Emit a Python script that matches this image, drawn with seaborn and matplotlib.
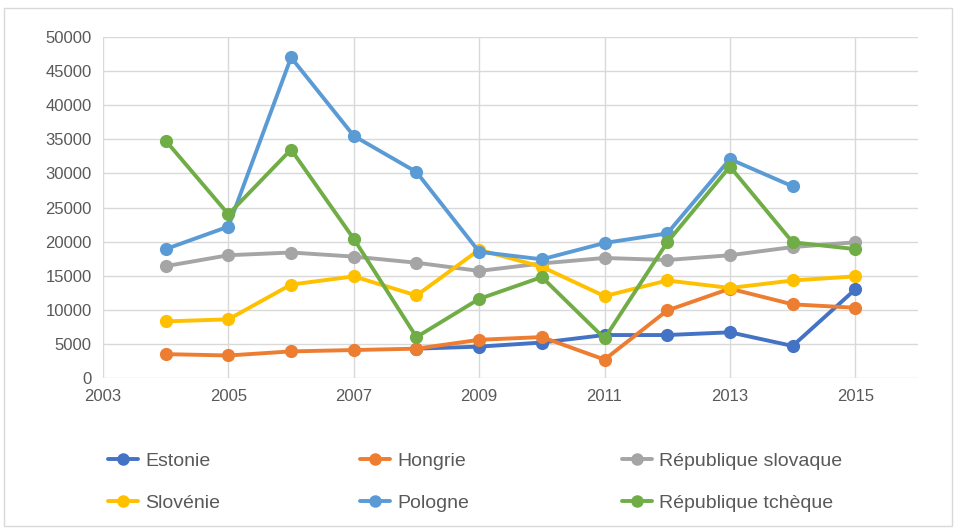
import numpy as np
import pandas as pd
import matplotlib
matplotlib.use("Agg")
import matplotlib.pyplot as plt
import seaborn as sns
from matplotlib.lines import Line2D
from matplotlib.patches import Rectangle

years = [2004, 2005, 2006, 2007, 2008, 2009, 2010, 2011, 2012, 2013, 2014, 2015]
nan = np.nan
estonie = [nan, nan, nan, nan, 4300, 4600, 5200, 6300, 6300, 6700, 4700, 13000]
hongrie = [3500, 3300, 3900, 4100, 4300, 5600, 6000, 2700, 9900, 13100, 10800, 10300]
slovaquie = [16400, 18000, 18400, 17800, 16900, 15700, 16800, 17600, 17300, 18000, 19200, 19900]
slovenie = [8300, 8600, 13700, 14900, 12100, 18800, 16300, 12000, 14300, 13200, 14300, 14900]
pologne = [18900, 22200, 47000, 35500, 30200, 18500, 17400, 19800, 21200, 32100, 28100, nan]
tcheque = [34800, 24000, 33500, 20400, 6000, 11600, 14800, 5800, 19900, 31000, 19900, 18900]

series_names = ["Estonie", "Hongrie", "République slovaque", "Slovénie", "Pologne", "République tchèque"]
series_values = [estonie, hongrie, slovaquie, slovenie, pologne, tcheque]
colors = ["#4472C4", "#ED7D31", "#A5A5A5", "#FFC000", "#5B9BD5", "#70AD47"]

x_ticks = [2003, 2005, 2007, 2009, 2011, 2013, 2015]
y_ticks = [0, 5000, 10000, 15000, 20000, 25000, 30000, 35000, 40000, 45000, 50000]

rows = []
for name, vals in zip(series_names, series_values):
    for yr, v in zip(years, vals):
        rows.append({"year": yr, "value": v, "pays": name})
df = pd.DataFrame(rows).dropna()

sns.set_style("white")
plt.rcParams["font.family"] = ["Liberation Sans Narrow", "Liberation Sans", "DejaVu Sans"]

W, H = 958, 529
fig = plt.figure(figsize=(W / 100, H / 100), dpi=100)
ax = fig.add_axes([103 / W, 1 - 378 / H, (918 - 103) / W, (378 - 37) / H])

palette = dict(zip(series_names, colors))
sns.lineplot(data=df, x="year", y="value", hue="pays", hue_order=series_names,
             palette=palette, marker="o", markersize=9.5, markeredgewidth=0,
             linewidth=2.8, ax=ax, legend=False, sort=True)

ax.set_xlim(2003, 2016)
ax.set_ylim(0, 50000)
ax.set_xticks(x_ticks)
ax.set_yticks(y_ticks)
ax.set_xticklabels([str(t) for t in x_ticks])
ax.set_yticklabels([str(t) for t in y_ticks])
ax.grid(True, color="#D9D9D9", linewidth=1)
ax.set_axisbelow(True)
for s in ax.spines.values():
    s.set_visible(False)
ax.tick_params(axis="both", length=0, labelsize=12, colors="#595959", pad=8)
ax.set_xlabel("")
ax.set_ylabel("")

# legends: three columns placed like the reference
col_x = [108, 360, 622]
for c in range(3):
    handles = []
    for r in range(2):
        i = r * 3 + c
        handles.append(Line2D([0], [0], color=colors[i], linewidth=2.8, marker="o",
                              markersize=9, markeredgewidth=0, label=series_names[i]))
    fig.legend(handles=handles, loc="upper left",
               bbox_to_anchor=(col_x[c] / W, 1 - 452 / H),
               frameon=False, ncol=1, fontsize=14, labelcolor="#595959",
               handlelength=1.55, handletextpad=0.35, labelspacing=1.25,
               borderaxespad=0, borderpad=0)

fig.patches.append(Rectangle((0.004, 0.006), 0.990, 0.978, transform=fig.transFigure,
                             fill=False, edgecolor="#D9D9D9", linewidth=1))

fig.savefig("out.png", dpi=100, facecolor="white")
